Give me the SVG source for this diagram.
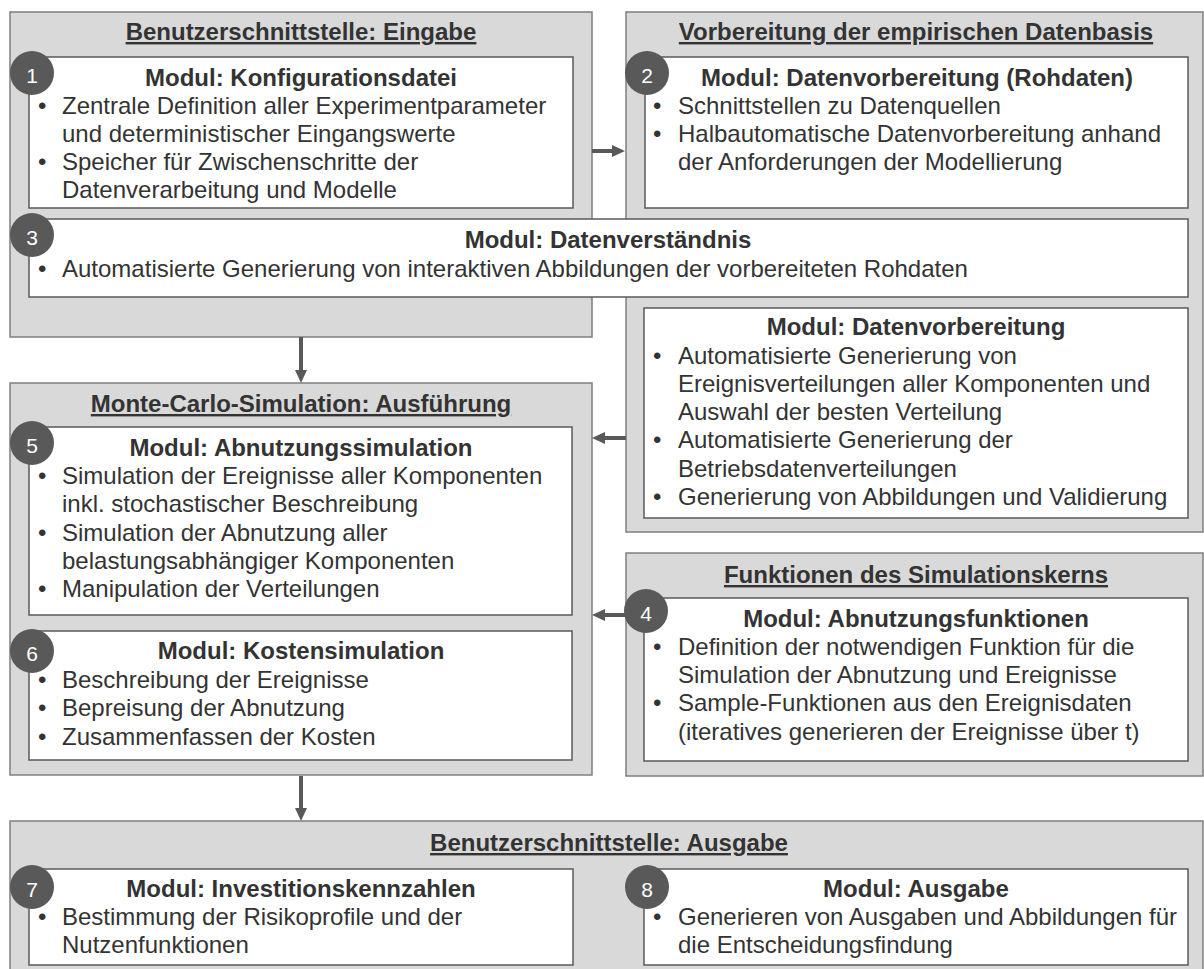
<svg xmlns="http://www.w3.org/2000/svg" width="1204" height="969" viewBox="0 0 1204 969">
  <style>
    .cont { fill: #d9d9d9; stroke: #7f7f7f; stroke-width: 1.5; }
    .box { fill: #ffffff; stroke: #595959; stroke-width: 1.5; }
    .badge { fill: #595959; }
    .num { font-family: "Liberation Sans", Arial, sans-serif; font-size: 21px; fill: #ffffff; text-anchor: middle; }
    .hdr { font-family: "Liberation Sans", Arial, sans-serif; font-size: 24px; font-weight: bold; fill: #333333; text-anchor: middle; text-decoration: underline; }
    .mt { font-family: "Liberation Sans", Arial, sans-serif; font-size: 24px; font-weight: bold; fill: #333333; text-anchor: middle; }
    .tx { font-family: "Liberation Sans", Arial, sans-serif; font-size: 24px; fill: #333333; }
    .conn { stroke: #595959; stroke-width: 4; fill: none; marker-end: url(#head); }
  </style>
  <defs>
    <marker id="head" markerUnits="userSpaceOnUse" markerWidth="13" markerHeight="12" refX="0" refY="6" orient="auto">
      <path d="M0,0 L13,6 L0,12 z" fill="#595959"/>
    </marker>
  </defs>

  <!-- Eingabe container with module 1 -->
  <g id="eingabe">
    <rect class="cont" x="10" y="12" width="582" height="325"/>
    <text class="hdr" x="301" y="40">Benutzerschnittstelle: Eingabe</text>
  </g>
  <g id="modul-1">
    <rect class="box" x="29" y="57" width="544" height="151"/>
    <text class="mt" x="301" y="86">Modul: Konfigurationsdatei</text>
    <text class="tx" x="38" y="114">•</text>
    <text class="tx" x="62" y="114">Zentrale Definition aller Experimentparameter</text>
    <text class="tx" x="62" y="142">und deterministischer Eingangswerte</text>
    <text class="tx" x="38" y="170">•</text>
    <text class="tx" x="62" y="170">Speicher für Zwischenschritte der</text>
    <text class="tx" x="62" y="198">Datenverarbeitung und Modelle</text>
    <circle class="badge" cx="32" cy="73" r="22"/>
    <text class="num" x="32" y="83">1</text>
  </g>

  <!-- Datenbasis container with module 2 and data preparation -->
  <g id="datenbasis">
    <rect class="cont" x="626" y="12" width="577" height="520"/>
    <text class="hdr" x="916" y="40">Vorbereitung der empirischen Datenbasis</text>
  </g>
  <g id="modul-2">
    <rect class="box" x="645" y="57" width="543" height="151"/>
    <text class="mt" x="917" y="86">Modul: Datenvorbereitung (Rohdaten)</text>
    <text class="tx" x="653" y="114">•</text>
    <text class="tx" x="678" y="114">Schnittstellen zu Datenquellen</text>
    <text class="tx" x="653" y="142">•</text>
    <text class="tx" x="678" y="142">Halbautomatische Datenvorbereitung anhand</text>
    <text class="tx" x="678" y="170">der Anforderungen der Modellierung</text>
    <circle class="badge" cx="647" cy="73" r="22"/>
    <text class="num" x="647" y="83">2</text>
  </g>
  <g id="datenvorbereitung">
    <rect class="box" x="644" y="308" width="544" height="210"/>
    <text class="mt" x="916" y="335">Modul: Datenvorbereitung</text>
    <text class="tx" x="653" y="364">•</text>
    <text class="tx" x="678" y="364">Automatisierte Generierung von</text>
    <text class="tx" x="678" y="392">Ereignisverteilungen aller Komponenten und</text>
    <text class="tx" x="678" y="420">Auswahl der besten Verteilung</text>
    <text class="tx" x="653" y="448">•</text>
    <text class="tx" x="678" y="448">Automatisierte Generierung der</text>
    <text class="tx" x="678" y="477">Betriebsdatenverteilungen</text>
    <text class="tx" x="653" y="505">•</text>
    <text class="tx" x="678" y="505">Generierung von Abbildungen und Validierung</text>
  </g>

  <!-- Module 3 spans both upper containers -->
  <g id="modul-3">
    <rect class="box" x="29" y="219" width="1159" height="78"/>
    <text class="mt" x="608" y="248">Modul: Datenverständnis</text>
    <text class="tx" x="38" y="277">•</text>
    <text class="tx" x="62" y="277">Automatisierte Generierung von interaktiven Abbildungen der vorbereiteten Rohdaten</text>
    <circle class="badge" cx="32" cy="235" r="22"/>
    <text class="num" x="32" y="245">3</text>
  </g>

  <!-- Monte-Carlo container with modules 5 and 6 -->
  <g id="monte-carlo">
    <rect class="cont" x="10" y="383" width="582" height="392"/>
    <text class="hdr" x="301" y="412">Monte-Carlo-Simulation: Ausführung</text>
  </g>
  <g id="modul-5">
    <rect class="box" x="29" y="427" width="543" height="188"/>
    <text class="mt" x="301" y="456">Modul: Abnutzungssimulation</text>
    <text class="tx" x="38" y="484">•</text>
    <text class="tx" x="62" y="484">Simulation der Ereignisse aller Komponenten</text>
    <text class="tx" x="62" y="512">inkl. stochastischer Beschreibung</text>
    <text class="tx" x="38" y="541">•</text>
    <text class="tx" x="62" y="541">Simulation der Abnutzung aller</text>
    <text class="tx" x="62" y="569">belastungsabhängiger Komponenten</text>
    <text class="tx" x="38" y="597">•</text>
    <text class="tx" x="62" y="597">Manipulation der Verteilungen</text>
    <circle class="badge" cx="32" cy="443" r="22"/>
    <text class="num" x="32" y="453">5</text>
  </g>
  <g id="modul-6">
    <rect class="box" x="29" y="631" width="543" height="129"/>
    <text class="mt" x="301" y="659">Modul: Kostensimulation</text>
    <text class="tx" x="38" y="688">•</text>
    <text class="tx" x="62" y="688">Beschreibung der Ereignisse</text>
    <text class="tx" x="38" y="716">•</text>
    <text class="tx" x="62" y="716">Bepreisung der Abnutzung</text>
    <text class="tx" x="38" y="745">•</text>
    <text class="tx" x="62" y="745">Zusammenfassen der Kosten</text>
    <circle class="badge" cx="32" cy="651" r="22"/>
    <text class="num" x="32" y="661">6</text>
  </g>

  <!-- Simulation core container with module 4 -->
  <g id="simulationskern">
    <rect class="cont" x="626" y="553" width="577" height="223"/>
    <text class="hdr" x="916" y="583">Funktionen des Simulationskerns</text>
  </g>
  <g id="modul-4">
    <rect class="box" x="644" y="598" width="544" height="163"/>
    <text class="mt" x="916" y="627">Modul: Abnutzungsfunktionen</text>
    <text class="tx" x="653" y="655">•</text>
    <text class="tx" x="678" y="655">Definition der notwendigen Funktion für die</text>
    <text class="tx" x="678" y="683">Simulation der Abnutzung und Ereignisse</text>
    <text class="tx" x="653" y="711">•</text>
    <text class="tx" x="678" y="711">Sample-Funktionen aus den Ereignisdaten</text>
    <text class="tx" x="678" y="740">(iteratives generieren der Ereignisse über t)</text>
  </g>

  <!-- Ausgabe container with modules 7 and 8 -->
  <g id="ausgabe">
    <rect class="cont" x="10" y="821" width="1193" height="160"/>
    <text class="hdr" x="609" y="851">Benutzerschnittstelle: Ausgabe</text>
  </g>
  <g id="modul-7">
    <rect class="box" x="29" y="869" width="544" height="96"/>
    <text class="mt" x="301" y="897">Modul: Investitionskennzahlen</text>
    <text class="tx" x="38" y="925">•</text>
    <text class="tx" x="62" y="925">Bestimmung der Risikoprofile und der</text>
    <text class="tx" x="62" y="953">Nutzenfunktionen</text>
    <circle class="badge" cx="32" cy="887" r="22"/>
    <text class="num" x="32" y="897">7</text>
  </g>
  <g id="modul-8">
    <rect class="box" x="644" y="869" width="544" height="96"/>
    <text class="mt" x="916" y="897">Modul: Ausgabe</text>
    <text class="tx" x="653" y="925">•</text>
    <text class="tx" x="678" y="925">Generieren von Ausgaben und Abbildungen für</text>
    <text class="tx" x="678" y="953">die Entscheidungsfindung</text>
    <circle class="badge" cx="647" cy="887" r="22"/>
    <text class="num" x="647" y="897">8</text>
  </g>

  <!-- Connectors -->
  <g id="connectors">
    <line class="conn" x1="592" y1="151" x2="612" y2="151"/>
    <line class="conn" x1="626" y1="438" x2="605" y2="438"/>
    <line class="conn" x1="626" y1="615" x2="605" y2="615"/>
    <line class="conn" x1="301" y1="337" x2="301" y2="370"/>
    <line class="conn" x1="301" y1="776" x2="301" y2="808"/>
  </g>

  <!-- Badge 4 sits on top of its connector -->
  <g id="badge-4">
    <circle class="badge" cx="646" cy="611" r="22"/>
    <text class="num" x="646" y="621">4</text>
  </g>
</svg>
